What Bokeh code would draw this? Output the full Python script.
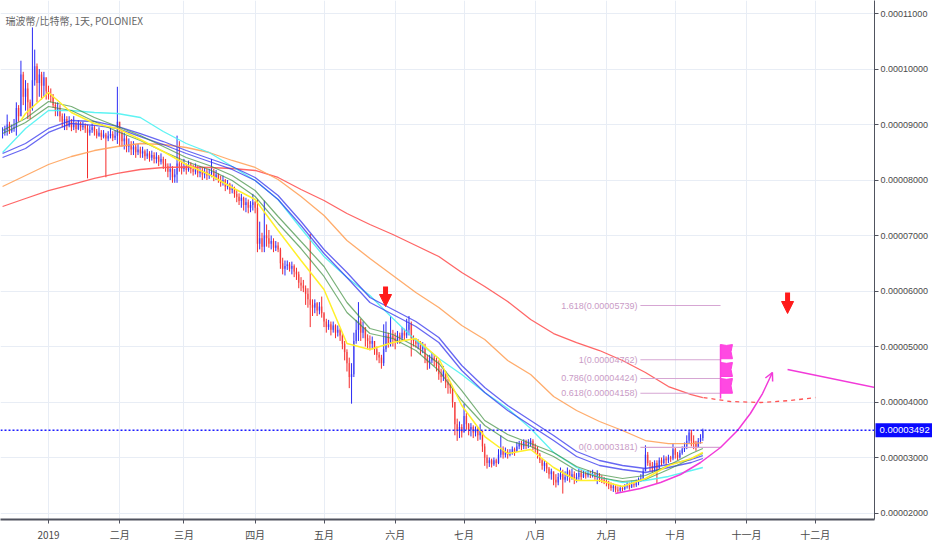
import pandas as pd
from bokeh.plotting import figure
from bokeh.models import (Range1d, FixedTicker, PrintfTickFormatter, Span, Label,
                          Arrow, NormalHead, OpenHead, ColumnDataSource)
from bokeh.core.properties import value
from bokeh.embed import file_html
from bokeh.resources import INLINE

TITLE = "瑞波幣/比特幣, 1天, POLONIEX"
FIRST_BAR = "2018-12-12"
ORIGIN = "2019-01-01"
UNIT = 1e-8  # prices below are in units of 0.00000001 BTC

# ---- daily bars (Dec 12 2018 .. Oct 13 2019); open = previous close ----
close = [
    8850, 8900, 9000, 8880, 8920, 8950, 9300, 9150, 9900, 9500, 9650, 9400, 9300, 9800, 10050, 9750, 9900, 9700, 9850, 9600,
    9550, 9500, 9350, 9250, 9300, 9150, 9050, 9100, 8980, 9050, 8950, 9000, 8920, 9000, 8950, 8980, 8930, 8850, 8900, 8950, 8880, 8800, 8850, 8780, 8820, 8750, 8800, 8830, 8760, 8800, 9050,
    8850, 8700, 8750, 8600, 8650, 8550, 8600, 8500, 8550, 8480, 8520, 8430, 8480, 8400, 8450, 8380, 8420, 8330, 8380, 8300, 8250, 8150, 8200, 8050, 8100, 8300, 8250, 8200,
    8250, 8180, 8280, 8200, 8150, 8220, 8120, 8180, 8100, 8150, 8080, 8120, 8150, 8050, 8100, 8000, 7950, 8000, 7880, 7920, 7820, 7850, 7750, 7700, 7620, 7680, 7550, 7600, 7500, 7550, 7600,
    7500, 6850, 6950, 6800, 7000, 6950, 6850, 6900, 6780, 6820, 6750, 6500, 6400, 6450, 6480, 6400, 6450, 6350, 6300, 6150, 6100, 6050, 5950, 5850, 5750, 5700, 5780, 5650, 5720, 5600,
    5450, 5350, 5400, 5300, 5380, 5250, 5300, 5200, 5050, 4900, 4700, 4450, 4500, 5100, 5300, 5450, 5250, 5350, 5150, 5100, 5050, 5100, 4950, 4850, 4800, 4700, 4950, 5200, 5050, 5200, 5150,
    5100, 5200, 5150, 5250, 5200, 5300, 5400, 5150, 5100, 5050, 5080, 4950, 5000, 4800, 4700, 4750, 4800, 4750, 4650, 4500, 4450, 4550, 4350, 4300, 4250, 4000, 3600, 3500, 3550, 3450,
    3750, 3600, 3500, 3550, 3450, 3500, 3400, 3480, 3200, 3000, 2900, 2950, 2880, 2950, 2900, 3050, 3150, 3050, 3100, 3050, 3100, 3150, 3100, 3200, 3250, 3200, 3280, 3220, 3250, 3300, 3200,
    3150, 3050, 2950, 2850, 2900, 2800, 2700, 2750, 2600, 2550, 2650, 2700, 2600, 2650, 2750, 2650, 2700, 2600, 2650, 2720, 2650, 2700, 2680, 2720, 2690, 2700, 2650, 2700, 2620, 2600, 2580,
    2550, 2500, 2450, 2480, 2420, 2400, 2450, 2430, 2480, 2500, 2460, 2520, 2500, 2550, 2580, 2620, 2750, 3050, 2900, 2850, 2800, 2900, 2800, 2950, 2900, 2980, 2950, 3000, 2980, 3150,
    3050, 3000, 3080, 3150, 3200, 3300, 3450, 3300, 3250, 3180, 3300, 3350, 3492,
]
high = [
    8950, 8980, 9180, 9050, 9000, 9100, 9400, 9350, 10150, 9950, 9800, 9750, 9450, 10750, 10350, 10100, 10000, 9950, 9950, 9850,
    9700, 9650, 9550, 9400, 9400, 9350, 9200, 9200, 9150, 9150, 9100, 9150, 9050, 9080, 9050, 9050, 9020, 9000, 8980, 9020, 8980, 8920, 8950, 8900, 8900, 8850, 8880, 8950, 8880, 8900, 9680,
    9000, 8900, 8850, 8800, 8750, 8700, 8700, 8650, 8650, 8600, 8600, 8550, 8560, 8520, 8530, 8500, 8500, 8450, 8480, 8420, 8380, 8300, 8300, 8250, 8200, 8800, 8700, 8350,
    8380, 8300, 8350, 8320, 8280, 8300, 8250, 8250, 8220, 8230, 8200, 8200, 8380, 8200, 8180, 8120, 8080, 8080, 8020, 8000, 7950, 7920, 7880, 7820, 7760, 7750, 7700, 7680, 7650, 7620, 7750,
    7620, 7650, 7250, 7050, 7630, 7200, 7100, 7000, 6950, 6900, 6880, 6780, 6600, 6550, 6550, 6520, 6530, 6480, 6420, 6350, 6250, 6200, 6100, 6050, 7030, 5850, 5850, 5800, 5800, 5900,
    5620, 5500, 5480, 5450, 5450, 5400, 5380, 5330, 5250, 5100, 4950, 4800, 4700, 5250, 5480, 5800, 5500, 5450, 5300, 5220, 5200, 5180, 5100, 5000, 4900, 4850, 5400, 5450, 5250, 5550, 5300,
    5250, 5280, 5250, 5350, 5320, 5500, 5550, 5450, 5200, 5150, 5130, 5100, 5080, 5050, 4850, 4850, 4900, 4850, 4800, 4750, 4600, 4650, 4500, 4420, 4350, 4250, 4000, 3700, 3650, 3600,
    3970, 3800, 3620, 3620, 3580, 3560, 3550, 3600, 3450, 3250, 3050, 3000, 2980, 3000, 2980, 3150, 3400, 3200, 3180, 3150, 3150, 3200, 3180, 3280, 3300, 3300, 3330, 3320, 3330, 3350, 3330,
    3250, 3200, 3080, 2980, 2950, 2920, 2830, 2800, 2750, 2700, 2720, 2820, 2780, 2750, 2820, 2780, 2800, 2750, 2720, 2800, 2780, 2760, 2750, 2770, 2760, 2780, 2740, 2770, 2720, 2680, 2650,
    2620, 2580, 2550, 2530, 2500, 2480, 2500, 2490, 2520, 2560, 2550, 2580, 2570, 2600, 2640, 2700, 2800, 3220, 3100, 2950, 2920, 2950, 2950, 3000, 3000, 3040, 3020, 3050, 3030, 3250,
    3180, 3100, 3130, 3200, 3270, 3400, 3500, 3500, 3400, 3300, 3350, 3420, 3520,
]
low = [
    8750, 8800, 8800, 8830, 8850, 8870, 8800, 9050, 9150, 9350, 9250, 9100, 9100, 9250, 9700, 9400, 9500, 9450, 9500, 9450,
    9450, 9400, 9300, 9150, 9150, 9050, 8950, 8900, 8900, 8950, 8880, 8900, 8850, 8900, 8880, 8900, 8850, 8030, 8800, 8850, 8800, 8750, 8780, 8720, 8750, 8050, 8700, 8750, 8700, 8720, 8650,
    8600, 8600, 8550, 8500, 8500, 8450, 8450, 8400, 8450, 8400, 8400, 8350, 8380, 8330, 8350, 8300, 8300, 8250, 8280, 8200, 8150, 8050, 8000, 7950, 7950, 7950, 8150, 8100,
    8150, 8100, 8150, 8120, 8080, 8100, 8050, 8050, 8000, 8030, 8000, 8020, 8050, 7980, 8000, 7950, 7880, 7900, 7800, 7830, 7750, 7760, 7680, 7600, 7550, 7500, 7450, 7420, 7400, 7420, 7450,
    7400, 6700, 6750, 6700, 6700, 6800, 6780, 6750, 6700, 6720, 6700, 6400, 6300, 6280, 6380, 6350, 6300, 6250, 6200, 6050, 6000, 5980, 5750, 5700, 5350, 5550, 5600, 5550, 5580, 5520,
    5350, 5250, 5300, 5200, 5250, 5150, 5180, 5100, 4950, 4750, 4550, 4250, 3970, 4450, 5050, 5100, 5100, 5150, 5000, 4950, 4930, 4950, 4850, 4750, 4700, 4600, 4650, 4900, 4980, 5000, 5000,
    4950, 5050, 5050, 5100, 5120, 5150, 5200, 4820, 5000, 4980, 4950, 4850, 4880, 4700, 4580, 4600, 4700, 4650, 4550, 4400, 4350, 4380, 4250, 4150, 4150, 3900, 3400, 3300, 3350, 3360,
    3450, 3500, 3400, 3380, 3350, 3380, 3300, 3320, 3100, 2850, 2800, 2830, 2820, 2850, 2830, 2880, 3000, 2980, 3000, 2980, 3020, 3050, 3030, 3100, 3150, 3130, 3150, 3150, 3170, 3200, 3130,
    3080, 2980, 2900, 2780, 2750, 2720, 2620, 2600, 2500, 2460, 2500, 2600, 2350, 2550, 2580, 2550, 2600, 2520, 2550, 2600, 2580, 2630, 2620, 2640, 2630, 2640, 2600, 2520, 2560, 2540, 2520,
    2480, 2430, 2400, 2380, 2370, 2360, 2380, 2390, 2410, 2440, 2420, 2450, 2460, 2470, 2500, 2560, 2580, 2750, 2850, 2750, 2730, 2750, 2530, 2800, 2850, 2880, 2870, 2900, 2920, 2950,
    2980, 2950, 2980, 3050, 3100, 3150, 3250, 3200, 3150, 3120, 3200, 3250, 3300,
]

# ---- moving averages, read at sample bars ----
ma_idx = [0, 10, 20, 30, 40, 50, 60, 70, 80, 90, 100, 110, 120, 130, 140, 150,
          160, 170, 180, 190, 200, 210, 220, 230, 240, 250, 260, 270, 280, 290, 300, 305]
ma_red = [7523, 7667, 7811, 7919, 8028, 8118, 8190, 8226, 8235, 8226, 8208, 8172, 8046, 7829, 7631, 7397,
          7199, 7018, 6820, 6622, 6334, 6081, 5811, 5487, 5234, 5072, 4928, 4748, 4532, 4279, 4135, 4081]
ma_orange = [7883, 8082, 8280, 8424, 8532, 8604, 8658, 8640, 8586, 8496, 8352, 8226, 8010, 7703, 7361, 6910,
             6586, 6280, 5973, 5703, 5379, 5126, 4748, 4496, 4099, 3847, 3649, 3487, 3306, 3252, 3252, 3270]
ma_cyan = [8496, 8929, 9253, 9253, 9217, 9199, 9127, 8875, 8658, 8496, 8244, 7992, 7649, 7127, 6622, 6244,
           5919, 5505, 5108, 4784, 4496, 4171, 3883, 3523, 3090, 2820, 2640, 2549, 2586, 2658, 2766, 2820]
ma_blue1 = [8478, 8658, 8929, 9073, 9055, 8965, 8838, 8694, 8532, 8388, 8244, 8046, 7721, 7253, 6748, 6334,
            5883, 5667, 5451, 5162, 4658, 4261, 3937, 3667, 3396, 3108, 2946, 2856, 2802, 2874, 2964, 3036]
ma_blue2 = [8406, 8568, 8857, 9019, 8983, 8929, 8784, 8640, 8478, 8334, 8190, 7992, 7649, 7181, 6676, 6244,
            5793, 5577, 5361, 5072, 4568, 4171, 3847, 3577, 3306, 3018, 2856, 2784, 2730, 2820, 2910, 2982]
ma_green1 = [8893, 9109, 9415, 9325, 9127, 8965, 8802, 8604, 8406, 8262, 8082, 7811, 7343, 6892, 6442, 5793,
             5325, 5216, 5000, 4694, 4207, 3667, 3414, 3252, 3090, 2838, 2694, 2622, 2676, 2856, 3072, 3162]
ma_green2 = [8838, 9037, 9325, 9253, 9055, 8875, 8712, 8514, 8334, 8190, 7992, 7703, 7217, 6766, 6262, 5613,
             5234, 5144, 4928, 4568, 4027, 3577, 3306, 3198, 3018, 2766, 2640, 2568, 2604, 2784, 2982, 3072]
yellow_idx = [8, 10, 20, 30, 40, 50, 60, 70, 80, 90, 100, 110, 120, 130, 140, 150,
              160, 170, 180, 190, 200, 210, 220, 230, 240, 250, 260, 270, 280, 290, 300, 305]
ma_yellow = [9073, 9199, 9577, 9217, 9019, 8929, 8730, 8514, 8280, 8100, 7865, 7649, 7091, 6550, 6027, 5054,
             4946, 5072, 5144, 4784, 3937, 3378, 3072, 3144, 2820, 2586, 2586, 2477, 2622, 2856, 2982, 3090]

# ---- axes ----
month_starts = ["2019-01-01", "2019-02-01", "2019-03-01", "2019-04-01", "2019-05-01", "2019-06-01",
                "2019-07-01", "2019-08-01", "2019-09-01", "2019-10-01", "2019-11-01", "2019-12-01"]
month_labels = ["2019", "二月", "三月", "四月", "五月", "六月", "七月", "八月", "九月", "十月", "十一月", "十二月"]
price_ticks = [2000, 3000, 4000, 5000, 6000, 7000, 8000, 9000, 10000, 11000]

# ---- drawings (x in days since 2019-01-01) ----
fib_ratios = ["1.618", "1", "0.786", "0.618", "0"]
fib_prices = [5739, 4762, 4424, 4158, 3181]
fib_span_day = [257.8, 292.7]
flag_day = [292.7, 297.9]
flag_top = [5035, 4712, 4424]
flag_bottom = [4780, 4460, 4158]
flag_pole = [4063, 5035]
down_arrow_day = [146.8, 321.9]
down_arrow_top = [6081, 5973]
down_arrow_tip = [5721, 5595]
curve_day = [246.9, 257.8, 266.6, 275.3, 284.0, 292.7, 300.1, 305.7, 311.0, 315.3]
curve_price = [2351, 2441, 2550, 2694, 2910, 3180, 3487, 3793, 4153, 4532]
trend_day = [321.9, 360.2]
trend_price = [4586, 4261]
proj_day = [285.3, 297.0, 310.1, 323.2, 334.0]
proj_price = [4081, 4009, 3991, 4027, 4081]

# ---------------------------------------------------------------
UP, DOWN = "#2b2bf5", "#f52b2b"
MAG = "#f23ad9"
FLAG = "#ff3fe0"
FIB = "#d6a6d3"
AXFONT = "Liberation Sans"

dates = pd.date_range(FIRST_BAR, periods=len(close), freq="D")
bx = [(d - pd.Timestamp(ORIGIN)).days for d in dates]
opn = [close[0]] + close[:-1]
top = [max(o, c) for o, c in zip(opn, close)]
bot = [min(o, c) for o, c in zip(opn, close)]
hi = [max(h, t) for h, t in zip(high, top)]
lo = [min(l, b) for l, b in zip(low, bot)]
col = [UP if c >= o else DOWN for o, c in zip(opn, close)]
bars = ColumnDataSource(dict(x=bx, top=[v * UNIT for v in top], bot=[v * UNIT for v in bot],
                             hi=[v * UNIT for v in hi], lo=[v * UNIT for v in lo], col=col))

PX_PER_DAY = 2.296
FRAME_W, FRAME_H = 874, 519
x0 = -20.9
x1 = x0 + FRAME_W / PX_PER_DAY
y0, y1 = 1883 * UNIT, 11235 * UNIT

p = figure(frame_width=FRAME_W, frame_height=FRAME_H, x_range=Range1d(x0, x1), y_range=Range1d(y0, y1),
           y_axis_location="right", toolbar_location=None, output_backend="svg",
           min_border_left=0, min_border_top=0, min_border_right=0, min_border_bottom=0,
           background_fill_color="white", border_fill_color="white", outline_line_color=None)

month_x = [int((pd.Timestamp(m) - pd.Timestamp(ORIGIN)).days) for m in month_starts]
xt = FixedTicker(ticks=month_x)
yt = FixedTicker(ticks=[v * UNIT for v in price_ticks])
p.xaxis.ticker = xt
p.yaxis.ticker = yt
p.xgrid.ticker = xt
p.ygrid.ticker = yt
p.xaxis.major_label_overrides = {m: lab for m, lab in zip(month_x, month_labels)}
p.yaxis.formatter = PrintfTickFormatter(format="%.8f")
for ax in (p.xaxis, p.yaxis):
    ax.minor_tick_line_color = None
    ax.major_tick_in = 0
    ax.major_tick_out = 4
    ax.major_tick_line_color = "#50535e"
    ax.axis_line_color = "#50535e"
    ax.major_label_text_color = "#4a4a4a"
    ax.major_label_standoff = 3
p.yaxis.major_label_standoff = 2
p.xaxis.axis_line_width = 2
p.xaxis.major_label_text_font = "Noto Sans CJK TC"
p.xaxis.major_label_text_font_size = "10px"
p.yaxis.major_label_text_font = AXFONT
p.yaxis.major_label_text_font_size = "9px"
p.grid.grid_line_color = "#e8edf5"
p.grid.grid_line_width = 1

# bars
p.segment(x0="x", y0="lo", x1="x", y1="hi", line_color="col", line_width=1, source=bars)
p.vbar(x="x", width=0.75, top="top", bottom="bot", fill_color="col", fill_alpha=0.45,
       line_color=None, source=bars)

# moving averages
mx = [bx[i] for i in ma_idx]
yx = [bx[i] for i in yellow_idx]
for vals, c, a, w in [(ma_red, "#ff5555", 0.9, 1.3), (ma_orange, "#ffa35c", 0.9, 1.3),
                      (ma_cyan, "#4cf2f2", 0.9, 1.3), (ma_blue1, "#3434ee", 0.75, 1.3),
                      (ma_blue2, "#3434ee", 0.75, 1.3), (ma_green1, "#3f8f3f", 0.7, 1.2),
                      (ma_green2, "#3f8f3f", 0.7, 1.2)]:
    p.line(mx, [v * UNIT for v in vals], line_color=c, line_alpha=a, line_width=w)
p.line(yx, [v * UNIT for v in ma_yellow], line_color="#fff02a", line_width=1.5)

# last price line
last = close[-1] * UNIT
p.add_layout(Span(location=last, dimension="width", line_color="#1a1aff", line_dash="2 2", line_width=1.5))

# fib levels
p.segment(x0=[fib_span_day[0]] * len(fib_prices), x1=[fib_span_day[1]] * len(fib_prices),
          y0=[v * UNIT for v in fib_prices], y1=[v * UNIT for v in fib_prices],
          line_color=FIB, line_width=1.2)
p.text(x=[fib_span_day[0]] * len(fib_prices), y=[v * UNIT for v in fib_prices],
       text=[f"{r}({v * UNIT:.8f})" for r, v in zip(fib_ratios, fib_prices)],
       text_font=value(AXFONT), text_font_size="9px", text_color="#c99bc6",
       text_align="right", text_baseline="middle", x_offset=-3)

# flags on the pole (slightly wavy right edge)
fl, fr = flag_day
fw = fr - fl
flag_xs, flag_ys = [], []
for b, t in zip(flag_bottom, flag_top):
    h = t - b
    flag_xs.append([fl, fr, fr - 0.12 * fw, fr, fl + 0.5 * fw, fl])
    flag_ys.append([v * UNIT for v in (b, b, b + 0.5 * h, t, t - 0.06 * h, t)])
p.patches(flag_xs, flag_ys, fill_color=FLAG, fill_alpha=0.95, line_color=FLAG, line_width=1)
p.segment(x0=[fl], x1=[fl], y0=[flag_pole[0] * UNIT], y1=[flag_pole[1] * UNIT],
          line_color=FLAG, line_width=1.5)

# projections
p.line(proj_day, [v * UNIT for v in proj_price], line_color="#ff5555", line_dash="4 4", line_width=1.3)
p.line(curve_day, [v * UNIT for v in curve_price], line_color=MAG, line_width=1.5)
p.add_layout(Arrow(end=OpenHead(size=8, line_color=MAG, line_width=1.5), line_alpha=0,
                   x_start=curve_day[-2], y_start=curve_price[-2] * UNIT,
                   x_end=curve_day[-1], y_end=curve_price[-1] * UNIT))
p.line(trend_day, [v * UNIT for v in trend_price], line_color=MAG, line_width=1.5)

for d, t, b in zip(down_arrow_day, down_arrow_top, down_arrow_tip):
    p.add_layout(Arrow(end=NormalHead(size=12, fill_color="#ff1a1a", line_color="#ff1a1a"),
                       x_start=d, y_start=t * UNIT, x_end=d, y_end=b * UNIT,
                       line_color="#ff1a1a", line_width=5))

# title
p.add_layout(Label(x=x0, y=y1, x_offset=5, y_offset=-12, text=TITLE, text_baseline="top",
                   text_font="Noto Sans CJK TC", text_font_size="10px", text_color="#666666"))

# last price tag, placed in the right side panel (over the price axis), in canvas pixels
tag_sy = FRAME_H * (y1 - last) / (y1 - y0)
p.add_layout(Label(x=FRAME_W + 1, y=tag_sy, x_units="canvas", y_units="canvas",
                   text=f"{last:.8f}", text_baseline="middle", text_align="left",
                   text_color="white", text_font=AXFONT, text_font_size="9.5px",
                   background_fill_color="#0a0aff", padding=4), "right")

open("out.html", "w").write(file_html(p, INLINE))
